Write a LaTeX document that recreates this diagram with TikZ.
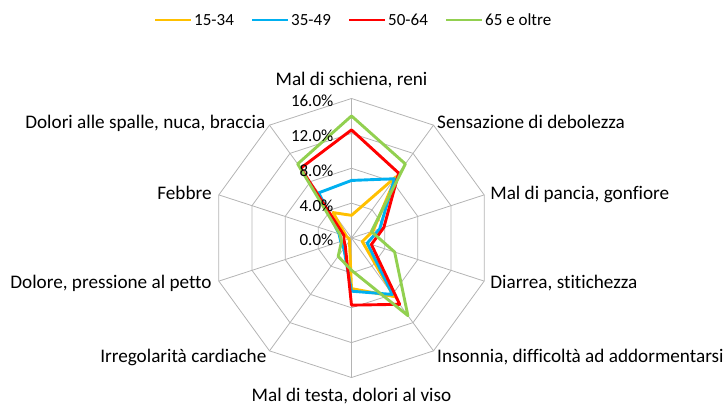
\documentclass[tikz,border=0pt]{standalone}
\usepackage{fontspec}
\setmainfont{Carlito}[Ligatures=NoCommon]
\usetikzlibrary{positioning}
\definecolor{colA}{RGB}{255,192,0}
\definecolor{colB}{RGB}{0,176,240}
\definecolor{colC}{RGB}{255,0,0}
\definecolor{colD}{RGB}{146,208,80}
\definecolor{grigio}{RGB}{180,180,180}
% #1 prefisso, #2 stile, #3 valori in %
\newcommand{\serie}[3]{%
  \foreach \v [count=\i from 0] in {#3}
    \coordinate (#1\i) at ({90-36*\i}:{\v*8.72});
  \draw[#2] (#10) \foreach \i in {1,...,9}{ -- (#1\i)} -- cycle;}

\begin{document}
\begin{tikzpicture}[x=1pt,y=1pt,
  etichetta/.style={font=\fontsize{19.2}{22}\selectfont, inner sep=0pt, text height=12.3pt, text depth=0pt},
  scala/.style={font=\fontsize{17}{20}\selectfont, inner sep=0pt, anchor=east, text height=10.9pt, text depth=0pt},
  legenda/.style={font=\fontsize{17}{20}\selectfont, inner sep=0pt, text height=10.9pt, text depth=0pt},
  griglia/.style={draw=grigio, line width=0.8pt},
  serie/.style={line width=2.9pt, line join=round}]
\useasboundingbox (0,0) rectangle (725,405);

\begin{scope}[shift={(351.5,167)}]
  % griglia
  \foreach \k in {0,...,9}
    \coordinate (o\k) at ({90-36*\k}:139.5);
  \foreach \r in {1,...,4}
    \draw[griglia] (90:{\r*34.875}) \foreach \k in {1,...,9}{ -- ({90-36*\k}:{\r*34.875})} -- cycle;
  \foreach \k in {0,...,9}
    \draw[griglia] (0,0) -- (o\k);

  % serie
  \serie{a}{serie, colA}{2.6, 8.7, 2.6, 1.3, 8.3, 5.8, 0.4, 0.3, 0.6, 3.6}
  \serie{b}{serie, colB}{6.6, 8.4, 3.4, 1.9, 8.0, 6.1, 1.5, 1.3, 1.5, 6.4}
  \serie{c}{serie, colC}{12.4, 9.2, 3.9, 2.4, 9.4, 7.7, 1.2, 0.9, 0.9, 9.9}
  \serie{d}{serie, colD}{14.0, 10.5, 2.4, 5.2, 11.0, 3.7, 2.6, 1.2, 1.4, 10.5}

  % scala
  \foreach \r/\t in {0/0.0, 1/4.0, 2/8.0, 3/12.0, 4/16.0}
    \node[scala] (s\r) at (-18,{\r*34.875-2.5}) {\t\%};

  % etichette
  \node[etichetta, above=12.5pt of o0] (e0) {Mal di schiena, reni};
  \node[etichetta, right=3.5pt of o1, yshift=3pt] (e1) {Sensazione di debolezza};
  \node[etichetta, right=6pt of o2, yshift=1.5pt] (e2) {Mal di pancia, gonfiore};
  \node[etichetta, right=6pt of o3, yshift=-1.5pt] (e3) {Diarrea, stitichezza};
  \node[etichetta, right=3.5pt of o4, yshift=-5pt] (e4) {Insonnia, difficoltà ad addormentarsi};
  \node[etichetta, below=11.5pt of o5] (e5) {Mal di testa, dolori al viso};
  \node[etichetta, left=3pt of o6, yshift=-5pt] (e6) {Irregolarità cardiache};
  \node[etichetta, left=7pt of o7, yshift=-1.5pt] (e7) {Dolore, pressione al petto};
  \node[etichetta, left=7pt of o8, yshift=1.5pt] (e8) {Febbre};
  \node[etichetta, left=4pt of o9, yshift=3pt] (e9) {Dolori alle spalle, nuca, braccia};
\end{scope}

% legenda
\foreach \c/\t [count=\i from 0] in {colA/15-34, colB/35-49, colC/50-64, colD/65 e oltre} {
  \coordinate (la\i) at ({155.3+97*\i},385);
  \coordinate (lb\i) at ({191+97*\i},385);
  \draw[serie, \c] (la\i) -- (lb\i);
  \node[legenda, right=3pt of lb\i] (lt\i) {\t};
}
\end{tikzpicture}
\end{document}
